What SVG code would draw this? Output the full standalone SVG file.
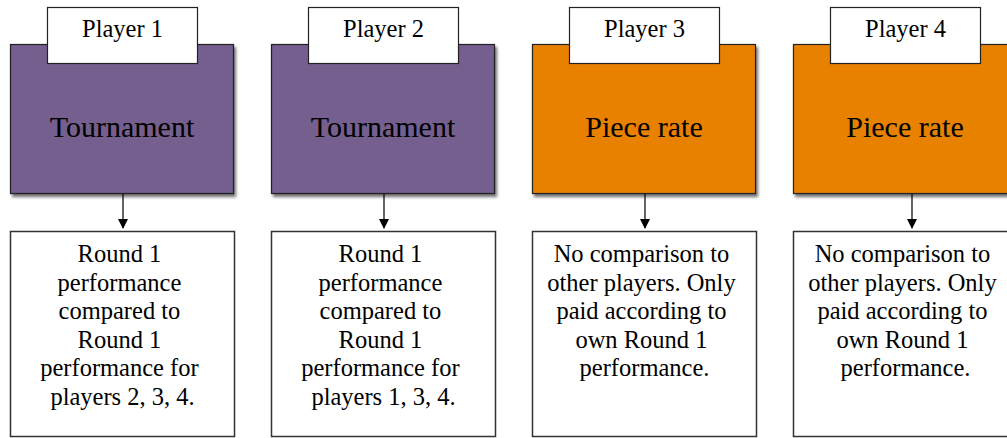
<svg xmlns="http://www.w3.org/2000/svg" width="1007" height="438" viewBox="0 0 1007 438">
  <defs>
    <filter id="shadow" x="-10%" y="-10%" width="125%" height="125%">
      <feDropShadow dx="2" dy="3" stdDeviation="1.5" flood-color="#000" flood-opacity="0.55"/>
    </filter>
    <marker id="arrow" viewBox="0 0 10 10" refX="9" refY="5" markerWidth="10" markerHeight="10" markerUnits="userSpaceOnUse" orient="auto">
      <path d="M0,0 L10,5 L0,10 z" fill="#000"/>
    </marker>
  </defs>
  <style>
    .head { stroke: #222; stroke-width: 1.2; filter: url(#shadow); }
    .tour { fill: #745e8f; }
    .piece { fill: #e98106; }
    .tag { fill: #fff; stroke: #222; stroke-width: 1.2; }
    .desc { fill: #fff; stroke: #333; stroke-width: 1.5; }
    .edge { stroke: #111; stroke-width: 1.3; fill: none; marker-end: url(#arrow); }
    text { fill: #000; text-anchor: middle; }
    .big { font-size: 30px; }
    .lbl { font-size: 24.5px; }
    .body { font-size: 24.5px; }
  </style>

  <g id="connectors">
    <line class="edge" x1="123" y1="194" x2="123" y2="228"/>
    <line class="edge" x1="384" y1="194" x2="384" y2="228"/>
    <line class="edge" x1="645" y1="194" x2="645" y2="228"/>
    <line class="edge" x1="912" y1="194" x2="912" y2="228"/>
  </g>

  <g font-family="'Liberation Serif', 'DejaVu Serif', 'Times New Roman', serif">
  <g id="player1">
    <rect class="head tour" x="10.5" y="44.5" width="223" height="149"/>
    <rect class="tag" x="47.5" y="7.5" width="150" height="56"/>
    <text class="lbl" x="122.5" y="37">Player 1</text>
    <text class="big" x="122" y="137">Tournament</text>
  </g>
  <g id="player1-rule">
    <rect class="desc" x="10.5" y="231.5" width="224" height="205"/>
    <text class="body">
      <tspan x="122.5" y="262">Round 1</tspan>
      <tspan x="122.5" y="290.5">performance</tspan>
      <tspan x="122.5" y="319">compared to</tspan>
      <tspan x="122.5" y="347.5">Round 1</tspan>
      <tspan x="122.5" y="376">performance for</tspan>
      <tspan x="122.5" y="404.5">players 2, 3, 4.</tspan>
    </text>
  </g>

  <g id="player2">
    <rect class="head tour" x="271.5" y="44.5" width="223" height="149"/>
    <rect class="tag" x="308.5" y="7.5" width="150" height="56"/>
    <text class="lbl" x="383.5" y="37">Player 2</text>
    <text class="big" x="383" y="137">Tournament</text>
  </g>
  <g id="player2-rule">
    <rect class="desc" x="271.5" y="231.5" width="224" height="205"/>
    <text class="body">
      <tspan x="383.5" y="262">Round 1</tspan>
      <tspan x="383.5" y="290.5">performance</tspan>
      <tspan x="383.5" y="319">compared to</tspan>
      <tspan x="383.5" y="347.5">Round 1</tspan>
      <tspan x="383.5" y="376">performance for</tspan>
      <tspan x="383.5" y="404.5">players 1, 3, 4.</tspan>
    </text>
  </g>

  <g id="player3">
    <rect class="head piece" x="532.5" y="44.5" width="223" height="149"/>
    <rect class="tag" x="569.5" y="7.5" width="150" height="56"/>
    <text class="lbl" x="644.5" y="37">Player 3</text>
    <text class="big" x="644" y="137">Piece rate</text>
  </g>
  <g id="player3-rule">
    <rect class="desc" x="532.5" y="231.5" width="224" height="205"/>
    <text class="body">
      <tspan x="644.5" y="262">No comparison to</tspan>
      <tspan x="644.5" y="290.5">other players. Only</tspan>
      <tspan x="644.5" y="319">paid according to</tspan>
      <tspan x="644.5" y="347.5">own Round 1</tspan>
      <tspan x="644.5" y="376">performance.</tspan>
    </text>
  </g>

  <g id="player4">
    <rect class="head piece" x="793.5" y="44.5" width="223" height="149"/>
    <rect class="tag" x="830.5" y="7.5" width="150" height="56"/>
    <text class="lbl" x="905.5" y="37">Player 4</text>
    <text class="big" x="905" y="137">Piece rate</text>
  </g>
  <g id="player4-rule">
    <rect class="desc" x="793.5" y="231.5" width="224" height="205"/>
    <text class="body">
      <tspan x="905.5" y="262">No comparison to</tspan>
      <tspan x="905.5" y="290.5">other players. Only</tspan>
      <tspan x="905.5" y="319">paid according to</tspan>
      <tspan x="905.5" y="347.5">own Round 1</tspan>
      <tspan x="905.5" y="376">performance.</tspan>
    </text>
  </g>
  </g>
</svg>
